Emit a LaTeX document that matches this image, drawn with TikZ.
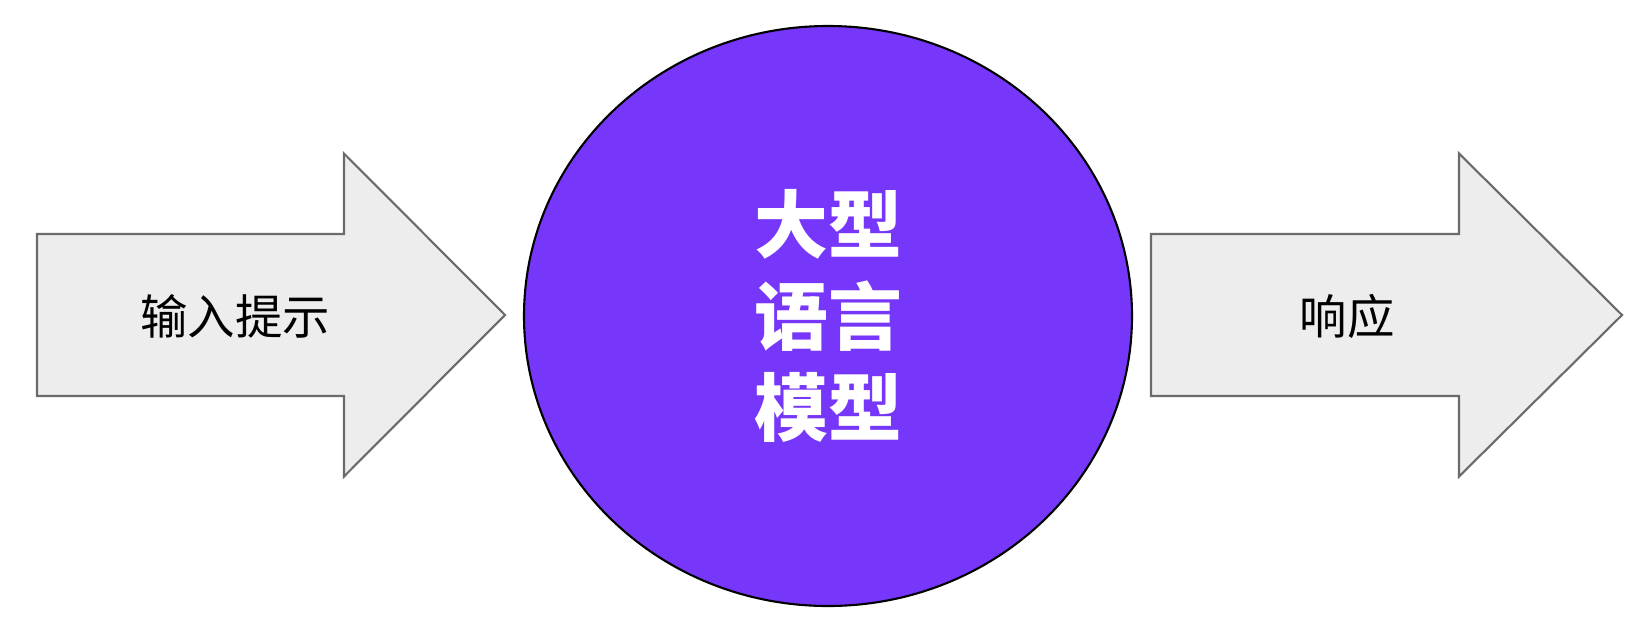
\documentclass[tikz,border=0pt]{standalone}
\usepackage{fontspec}
\newfontfamily\cjk{Noto Sans CJK SC}
\usetikzlibrary{shapes.geometric}

\definecolor{arrowgray}{HTML}{EDEDED}
\definecolor{edgegray}{HTML}{6B6B6B}
\definecolor{llmpurple}{HTML}{7737FA}

\tikzset{
  flowarrow/.style={draw=edgegray,fill=arrowgray,line width=0.6pt,line join=miter},
  flowtext/.style={font=\cjk\fontsize{13.5}{16}\selectfont,text=black},
  llm/.style={shape=ellipse,draw=black,fill=llmpurple,line width=0.6pt,inner sep=0pt,
    minimum width=6.08cm,minimum height=5.80cm,align=center,text=white,
    font=\cjk\bfseries\fontsize{21}{26}\selectfont}
}

\begin{document}
\begin{tikzpicture}
        \useasboundingbox[fill=white] (0,0) rectangle (16.43,6.40);

        % block arrows
        \draw[flowarrow] (0.37,2.44) -- (3.44,2.44) -- (3.44,1.635) -- (5.05,3.25)
                -- (3.44,4.865) -- (3.44,4.06) -- (0.37,4.06) -- cycle;
        \draw[flowarrow] (11.51,2.44) -- (14.59,2.44) -- (14.59,1.635) -- (16.22,3.25)
                -- (14.59,4.865) -- (14.59,4.06) -- (11.51,4.06) -- cycle;

        \node[llm] (model) at (8.28,3.24) {大型\\语言\\模型};

        \node[flowtext] (prompt) at (2.35,3.24) {输入提示};
        \node[flowtext] (response) at (13.47,3.24) {响应};
\end{tikzpicture}
\end{document}
